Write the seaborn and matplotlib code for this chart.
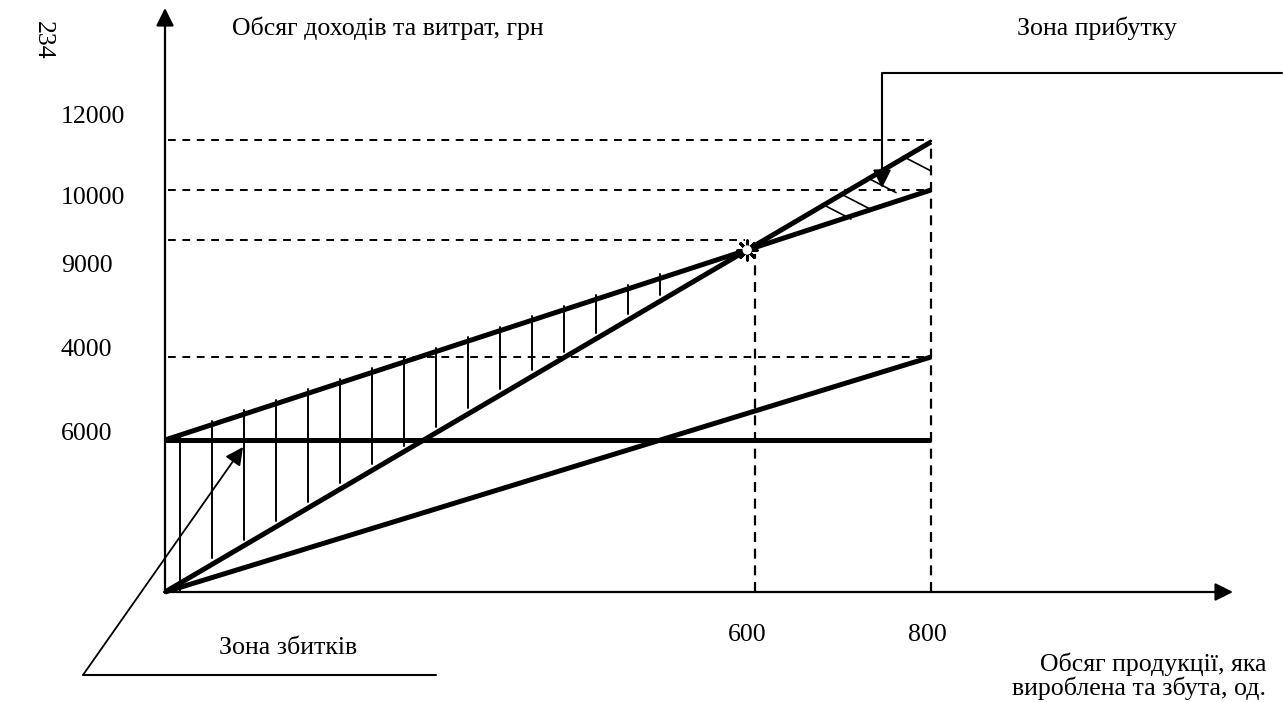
import numpy as np
import pandas as pd
import matplotlib.pyplot as plt
import seaborn as sns

# Schematic break-even chart (units measured from the origin of the drawing)
x_end = 766
line_names = ["fixed", "variable", "total", "revenue"]
line_start = [152, 0, 152, 0]
line_end = [152, 235, 402, 450]

# dashed guide levels and their labels
y_tick_labels = ["12000", "10000", "9000", "4000", "6000"]
y_guides = [452, 402, 352, 235]
x_tick_labels = ["600", "800"]
x_guides = [590, 766]

# hatching positions
loss_hatch_x = [15, 47, 79, 111, 143, 175, 207, 239, 271, 303, 335, 367, 399, 431, 463, 495]
profit_hatch_x = [657, 675, 702, 738]

sns.set_style("white")
plt.rcParams["font.family"] = ["Liberation Serif", "DejaVu Serif"]
plt.rcParams["text.color"] = "black"
FS = 18.6

fig = plt.figure(figsize=(12.84, 7.02), dpi=100)
ax = fig.add_axes([0, 0, 1, 1])

# main lines
df = pd.DataFrame({
    "x": [0, x_end] * len(line_names),
    "y": [v for pair in zip(line_start, line_end) for v in pair],
    "line": [n for n in line_names for _ in range(2)],
})
sns.lineplot(data=df, x="x", y="y", units="line", estimator=None,
             color="black", lw=3.6, ax=ax, legend=False,
             solid_capstyle="butt")
ax.set_xlim(-165, 1119)
ax.set_ylim(-110, 592)
ax.axis("off")

slope_rev = (line_end[3] - line_start[3]) / x_end
slope_tot = (line_end[2] - line_start[2]) / x_end
x_be = (line_start[2] - line_start[3]) / (slope_rev - slope_tot)
y_be = line_start[3] + slope_rev * x_be

dash = (0, (4, 3.4))
# horizontal dashed guides
for yv in y_guides:
    xr = x_be - 2 if yv == 352 else x_end
    ax.plot([3, xr], [yv, yv], color="black", lw=1.4, ls=dash)
# vertical dashed guides
ax.plot([x_guides[0], x_guides[0]], [0, y_be - 4], color="black", lw=1.6, ls=(0, (4.5, 3)))
ax.plot([x_guides[1], x_guides[1]], [0, y_guides[0]], color="black", lw=1.6, ls=(0, (4.5, 3)))

# loss-zone hatching (vertical strokes)
for xh in loss_hatch_x:
    lo = max(slope_rev * xh + 6, 0) if xh > 20 else 0
    hi = line_start[2] + slope_tot * xh + (4 if xh > 40 else 0)
    ax.plot([xh, xh], [lo, hi], color="black", lw=1.4)

# profit-zone hatching (diagonal strokes)
for xh in profit_hatch_x:
    y0 = slope_rev * xh + 2
    ax.plot([xh, min(xh + 29, x_end)], [y0, y0 - 15 * min(29, x_end - xh) / 29],
            color="black", lw=1.2)

# break-even marker
ax.scatter([x_be], [y_be], marker=(8, 2, 0), s=190, color="black", lw=2.2, zorder=5)
ax.scatter([x_be], [y_be], marker="o", s=45, color="white", edgecolor="none", zorder=6)

# axes with arrows
arrow = dict(arrowstyle="-|>,head_length=10.8,head_width=5.4", color="black",
             lw=1.6, shrinkA=0, shrinkB=0, mutation_scale=1)
ax.annotate("", xy=(0, 584), xytext=(0, -1), arrowprops=arrow)
ax.annotate("", xy=(1068, 0), xytext=(-1, 0), arrowprops=arrow)

# callouts
ax.plot([1117, 717, 717], [519, 519, 420], color="black", lw=1.5)
ax.annotate("", xy=(717, 404), xytext=(717, 421), arrowprops=arrow)
ax.plot([271, -82], [-83, -83], color="black", lw=1.5)
ax.annotate("", xy=(78, 145), xytext=(-82, -83), arrowprops=dict(arrow, lw=1.3))

# tick labels
for lab, yv in zip(y_tick_labels, [475, 394, 326, 242, 158]):
    ax.text(-104, yv, lab, fontsize=FS, ha="left", va="center")
for lab, xv in zip(x_tick_labels, [582, 762]):
    ax.text(xv, -43, lab, fontsize=FS, ha="center", va="center")

# other texts
ax.text(67, 564, "Обсяг доходів та витрат, грн", fontsize=FS, ha="left", va="center")
ax.text(852, 564, "Зона прибутку", fontsize=FS, ha="left", va="center")
ax.text(123, -56, "Зона збитків", fontsize=FS, ha="center", va="center")
ax.text(1101, -84, "Обсяг продукції, яка\nвироблена та збута, од.", fontsize=FS,
        ha="right", va="center", multialignment="right", linespacing=1.05)
ax.text(-122, 552, "234", fontsize=FS, rotation=-90, ha="center", va="center")

plt.savefig("out.png", dpi=100)
